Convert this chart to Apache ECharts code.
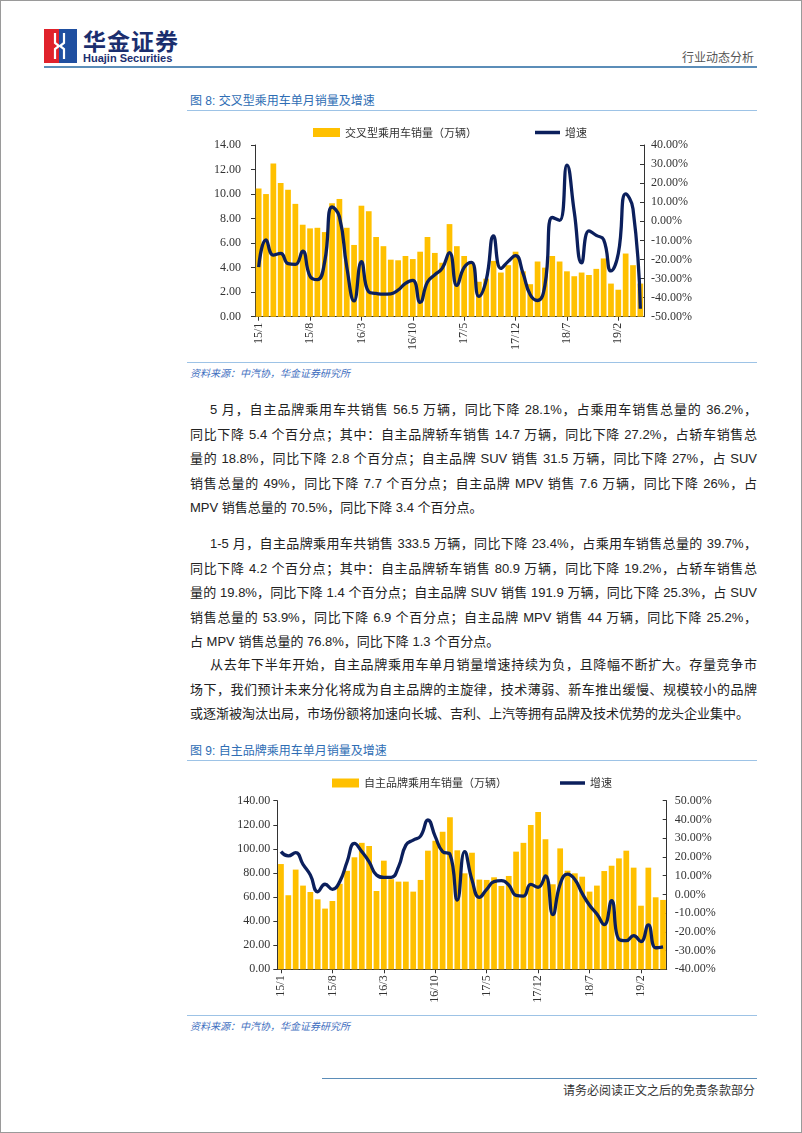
<!DOCTYPE html>
<html><head><meta charset="utf-8">
<script src="https://cdn.jsdelivr.net/npm/echarts@6/dist/echarts.min.js"></script>
<style>
html,body{margin:0;padding:0;background:#fff;}
body{width:802px;height:1133px;position:relative;overflow:hidden;font-family:"Liberation Sans","Noto Sans CJK SC",sans-serif;color:#222;}
.frame{position:absolute;left:0;top:0;width:800px;height:1131px;border:1px solid #9a9a9a;}
.abs{position:absolute;}
.hline{position:absolute;height:0;}
.ln{position:absolute;left:190px;width:567px;height:24.5px;line-height:24.5px;font-size:13px;white-space:nowrap;text-align:justify;text-align-last:justify;}
.ln.first{left:210px;width:547px;}
.ln.last{text-align:left;text-align-last:left;}
.figt{position:absolute;left:190px;font-size:12px;color:#2E6DB4;line-height:14px;}
.src{position:absolute;left:190px;font-size:10px;font-style:italic;color:#3F6FC0;line-height:12px;}
</style></head>
<body>
<div class="frame"></div>
<svg class="abs" style="left:44px;top:29px" width="33" height="34" viewBox="0 0 33 34">
  <rect x="0" y="0" width="15" height="34" fill="#E0222B"/>
  <rect x="15" y="0" width="18" height="34" fill="#1F4FA0"/>
  <polyline points="11,4 11,14 15,17 11,20 11,30" fill="none" stroke="#fff" stroke-width="2.2"/>
  <polyline points="20,4 20,14 16,17 20,20 20,30" fill="none" stroke="#fff" stroke-width="2.2"/>
</svg>
<div class="abs" style="left:83px;top:27px;font-size:23px;font-weight:bold;color:#1B2E6E;letter-spacing:1px;line-height:26px;font-family:'Noto Sans CJK SC'">华金证券</div>
<div class="abs" style="left:83px;top:52px;font-size:11px;font-weight:bold;color:#1B2E6E;line-height:12px;">Huajin Securities</div>
<div class="abs" style="left:682px;top:50px;font-size:12px;color:#555;line-height:14px;font-family:'Noto Sans CJK SC'">行业动态分析</div>
<div class="hline" style="left:44px;top:66px;width:713px;border-top:2px solid #5B8DB8;"></div>

<div class="figt" style="top:94px;">图 8: 交叉型乘用车单月销量及增速</div>
<div class="hline" style="left:187px;top:110px;width:570px;border-top:1px solid #9DC3E6;"></div>
<div id="c1" class="abs" style="left:187px;top:118px;width:570px;height:240px;"></div>
<div class="hline" style="left:187px;top:362px;width:570px;border-top:1px solid #9DC3E6;"></div>
<div class="src" style="top:368px;">资料来源：中汽协，华金证券研究所</div>

<div class="ln first" style="top:398px;">5 月，自主品牌乘用车共销售 56.5 万辆，同比下降 28.1%，占乘用车销售总量的 36.2%，</div>
<div class="ln" style="top:422.5px;">同比下降 5.4 个百分点；其中：自主品牌轿车销售 14.7 万辆，同比下降 27.2%，占轿车销售总</div>
<div class="ln" style="top:447px;">量的 18.8%，同比下降 2.8 个百分点；自主品牌 SUV 销售 31.5 万辆，同比下降 27%，占 SUV</div>
<div class="ln" style="top:471.5px;">销售总量的 49%，同比下降 7.7 个百分点；自主品牌 MPV 销售 7.6 万辆，同比下降 26%，占</div>
<div class="ln last" style="top:496px;">MPV 销售总量的 70.5%，同比下降 3.4 个百分点。</div>

<div class="ln first" style="top:532px;">1-5 月，自主品牌乘用车共销售 333.5 万辆，同比下降 23.4%，占乘用车销售总量的 39.7%，</div>
<div class="ln" style="top:556.5px;">同比下降 4.2 个百分点；其中：自主品牌轿车销售 80.9 万辆，同比下降 19.2%，占轿车销售总</div>
<div class="ln" style="top:581px;">量的 19.8%，同比下降 1.4 个百分点；自主品牌 SUV 销售 191.9 万辆，同比下降 25.3%，占 SUV</div>
<div class="ln" style="top:605.5px;">销售总量的 53.9%，同比下降 6.9 个百分点；自主品牌 MPV 销售 44 万辆，同比下降 25.2%，</div>
<div class="ln last" style="top:630px;">占 MPV 销售总量的 76.8%，同比下降 1.3 个百分点。</div>

<div class="ln first" style="top:653px;">从去年下半年开始，自主品牌乘用车单月销量增速持续为负，且降幅不断扩大。存量竞争市</div>
<div class="ln" style="top:677.5px;">场下，我们预计未来分化将成为自主品牌的主旋律，技术薄弱、新车推出缓慢、规模较小的品牌</div>
<div class="ln last" style="top:702px;">或逐渐被淘汰出局，市场份额将加速向长城、吉利、上汽等拥有品牌及技术优势的龙头企业集中。</div>

<div class="figt" style="top:744px;">图 9: 自主品牌乘用车单月销量及增速</div>
<div class="hline" style="left:187px;top:760px;width:570px;border-top:1px solid #9DC3E6;"></div>
<div id="c2" class="abs" style="left:187px;top:768px;width:570px;height:244px;"></div>
<div class="hline" style="left:187px;top:1015px;width:570px;border-top:1px solid #9DC3E6;"></div>
<div class="src" style="top:1021px;">资料来源：中汽协，华金证券研究所</div>

<div class="hline" style="left:322px;top:1078px;width:435px;border-top:1px solid #5B8DB8;"></div>
<div class="abs" style="left:563px;top:1083px;font-size:12px;color:#333;line-height:14px;font-family:'Noto Sans CJK SC'">请务必阅读正文之后的免责条款部分</div>

<script>
const months = ['15/1','15/2','15/3','15/4','15/5','15/6','15/7','15/8','15/9','15/10','15/11','15/12',
'16/1','16/2','16/3','16/4','16/5','16/6','16/7','16/8','16/9','16/10','16/11','16/12',
'17/1','17/2','17/3','17/4','17/5','17/6','17/7','17/8','17/9','17/10','17/11','17/12',
'18/1','18/2','18/3','18/4','18/5','18/6','18/7','18/8','18/9','18/10','18/11','18/12',
'19/1','19/2','19/3','19/4','19/5'];

const crossSales = [10.45,10.0,12.5,10.9,10.35,9.2,7.5,7.2,7.25,6.9,
9.25,9.6,7.25,5.85,9.05,8.6,6.5,5.75,4.65,4.6,
4.95,4.7,5.3,6.5,5.2,4.4,7.55,5.75,4.95,4.4,
2.85,3.1,4.55,3.6,4.2,5.3,3.7,2.65,4.5,4.0,
4.95,4.5,3.7,3.3,3.6,3.4,3.9,4.75,2.7,2.2,
5.15,4.2,2.7];
const crossGrowth = [-24,-9.8,-17.7,-16.8,-22.2,-22.6,-15.7,-28.8,-30.6,-21,
7.5,2.4,-23.8,-41.7,-21.2,-37,-37.8,-38.2,-38,-36,
-32.5,-31,-42.5,-31.8,-28,-24.7,-16.4,-33.6,-24.2,-21.5,
-39.3,-30.8,-7.7,-24.7,-21,-18,-27,-38.5,-41.5,-33.5,
2,0.5,29.5,4.9,-21.8,-5,-7.4,-9.6,-26,-16.9,
14.4,6.5,-45.8];

const ownSales = [87.4,61.5,82.8,69.5,64.2,58.1,50.4,56.7,71,81.8,
93,105,102.4,65,90.2,74.8,72.8,72.8,64.5,74.2,
98.5,106.8,114.2,126.2,98.8,79.7,96.8,74.5,74.2,76.4,
69.2,77.5,97.7,105,119.8,130.6,107.9,70.6,100.4,81.9,
79.7,76.9,64.5,69.5,81.6,86,92.1,98.5,84.4,52.8,
84.4,59.8,57.6];
const ownGrowth = [22.8,20.5,22.3,16,10.3,1.4,5.4,2.7,6.8,17.4,
27.2,22.8,17.4,10.3,9.1,9.1,14.7,26.3,29,31.1,
39.7,30.8,22.8,21.4,-3,22.8,7.7,-1.6,2.7,6.8,
7.3,5,-0.5,-0.9,5.3,3.8,9.8,-10.8,5.5,10.8,
8,0.5,-5.8,-10.5,-16.2,-3.4,-24,-24.7,-22,-25.2,
-16.3,-28.5,-28];

const leftTicks1 = {min:0, max:14, interval:2};
const rightTicks1 = {min:-50, max:40, interval:10};
const leftTicks2 = {min:0, max:140, interval:20};
const rightTicks2 = {min:-40, max:50, interval:10};

const BAR = '#FFC000', LINE = '#0B1F5C';
const serif = 'Liberation Serif';

function makeOption(cfg){
  const axisLine = {show:true, lineStyle:{color:'#333', width:1}};
  const axisTick = {show:true, length:4, lineStyle:{color:'#333'}};
  const legText = {fontSize:11, color:'#333', fontFamily:'Noto Sans CJK SC'};
  return {
    animation:false,
    grid:cfg.grid,
    legend:[
      {data:[{name:cfg.barName, icon:'rect'}], left:cfg.legL1, top:cfg.legTop, itemWidth:27, itemHeight:9, itemGap:0,
       textStyle:legText},
      {data:[{name:'增速', icon:'rect', itemStyle:{color:LINE}}], left:cfg.legL2, top:cfg.legTop, itemWidth:25, itemHeight:3.5,
       textStyle:legText}
    ],
    xAxis:{type:'category', data:months, boundaryGap:true,
      axisLine:axisLine,
      axisTick:{show:true, interval:6, alignWithLabel:true, length:4, lineStyle:{color:'#333'}},
      axisLabel:{interval:6, rotate:90, fontFamily:serif, fontSize:12, color:'#333', margin:6}},
    yAxis:[
      {type:'value', min:cfg.left.min, max:cfg.left.max, interval:cfg.left.interval,
       axisLine:axisLine, axisTick:axisTick, splitLine:{show:false},
       axisLabel:{formatter:v=>v.toFixed(2), fontFamily:serif, fontSize:12, color:'#333', margin:cfg.lMargin}},
      {type:'value', min:cfg.right.min, max:cfg.right.max, interval:cfg.right.interval, position:'right',
       axisLine:axisLine, axisTick:{show:true, inside:true, length:4, lineStyle:{color:'#333'}}, splitLine:{show:false},
       axisLabel:{formatter:v=>v.toFixed(2)+'%', fontFamily:serif, fontSize:12, color:'#333', margin:cfg.rMargin}}
    ],
    series:[
      {name:cfg.barName, type:'bar', data:cfg.bars, barCategoryGap:'22%', itemStyle:{color:BAR}},
      {name:'增速', type:'line', yAxisIndex:1, data:cfg.line, smooth:0.5, symbol:'none', showSymbol:false,
       lineStyle:{color:LINE, width:3.3}, itemStyle:{color:LINE}}
    ]
  };
}

const c1 = echarts.init(document.getElementById('c1'), null, {renderer:'canvas'});
c1.setOption(makeOption({
  grid:{left:68, top:27, width:389, height:171.7},
  barName:'交叉型乘用车销量（万辆）', legL1:121, legL2:343, legTop:4,
  left:leftTicks1, right:rightTicks1, lMargin:14, rMargin:7,
  bars:crossSales, line:crossGrowth
}));
const c2 = echarts.init(document.getElementById('c2'), null, {renderer:'canvas'});
c2.setOption(makeOption({
  grid:{left:90.3, top:32.7, width:389.4, height:168.6},
  barName:'自主品牌乘用车销量（万辆）', legL1:140, legL2:368, legTop:4.5,
  left:leftTicks2, right:rightTicks2, lMargin:7, rMargin:8,
  bars:ownSales, line:ownGrowth
}));
</script>
</body></html>
